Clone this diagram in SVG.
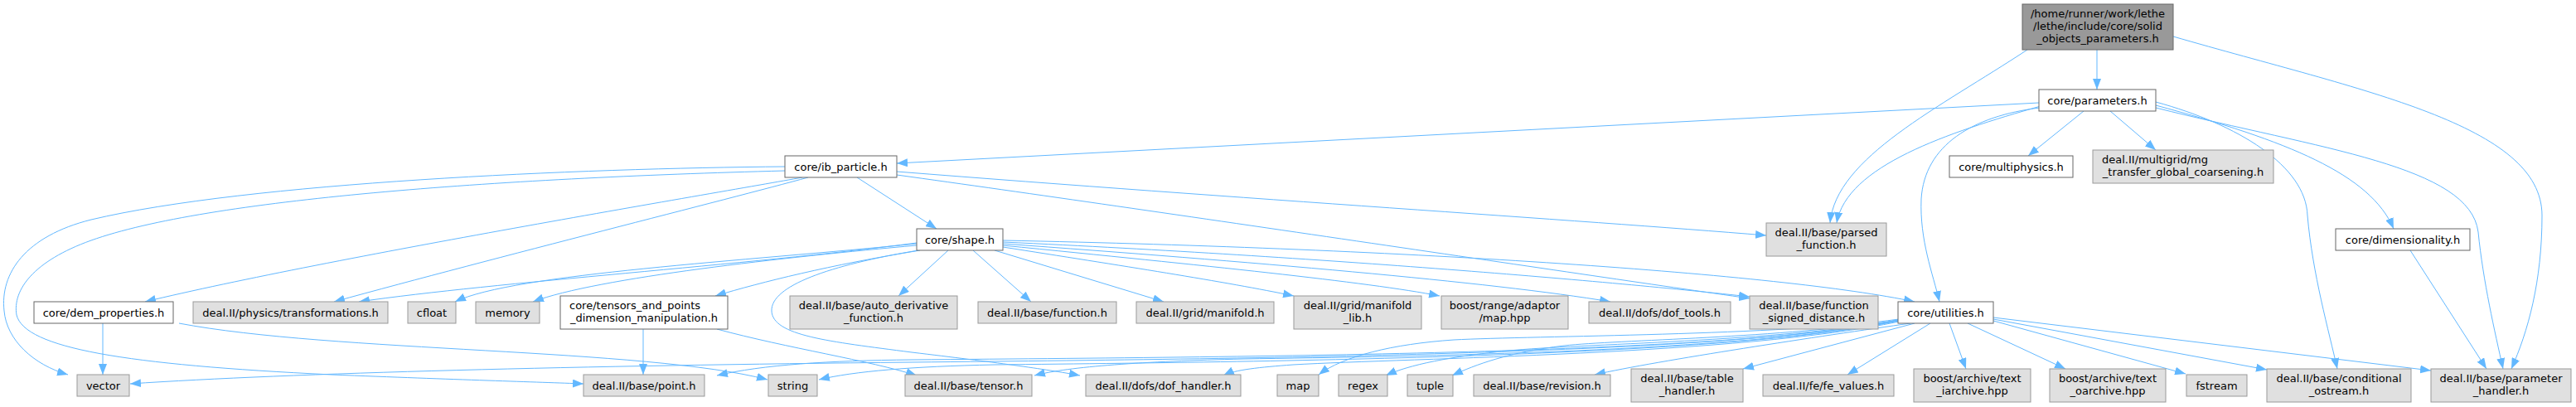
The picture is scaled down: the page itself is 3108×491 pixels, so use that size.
<svg xmlns="http://www.w3.org/2000/svg" width="3108" height="491" viewBox="0 0 3108 491">
<style>
rect{stroke-width:1}
.w{fill:#ffffff;stroke:#666666}
.g{fill:#e0e0e0;stroke:#999999}
.r{fill:#999999;stroke:#666666}
text{font-family:"DejaVu Sans","Liberation Sans",sans-serif;font-size:13px;fill:#000000;text-anchor:middle}
text.s{text-anchor:start}
#edges path{fill:none;stroke:#63b8ff;stroke-width:1;marker-end:url(#ah)}
</style>
<defs>
<marker id="ah" markerUnits="userSpaceOnUse" markerWidth="13" markerHeight="10" refX="13" refY="5" orient="auto">
<path d="M0,0 L13,5 L0,10 z" fill="#63b8ff"/>
</marker>
</defs>
<rect width="3108" height="491" fill="#ffffff"/>
<g id="edges">
<path d="M2530,60 L2530,108"/>
<path d="M2446,60 C2340,130 2215,190 2208,269"/>
<path d="M2622,44 C2850,110 3067,150 3067,260 C3067,340 3050,400 3030,445"/>
<path d="M2460,124 L1082,197"/>
<path d="M2514,134 L2447,188"/>
<path d="M2546,134 L2601,181"/>
<path d="M2462,128 C2350,160 2228,200 2216,269"/>
<path d="M2461,130 C2380,140 2322,175 2318,240 C2316,290 2332,330 2340,364"/>
<path d="M2601,123 C2700,150 2782,200 2784,260 C2790,330 2810,400 2820,445"/>
<path d="M2601,127 C2760,170 2860,210 2888,276"/>
<path d="M2601,130 C2800,180 2980,200 2990,280 C2996,340 3010,400 3020,445"/>
<path d="M2908,302 L3000,445"/>
<path d="M947,201 C700,203 300,220 110,265 C30,285 0,330 5,375 C8,410 40,440 82,452"/>
<path d="M947,206 C600,215 250,240 110,290 C40,315 15,350 20,380 C30,420 150,440 400,452 C550,458 650,461 704,463"/>
<path d="M968,214 C870,232 400,310 175,364"/>
<path d="M975,214 C880,240 600,310 403,364"/>
<path d="M1034,214 L1130,276"/>
<path d="M1082,207 C1500,240 1900,265 2131,284"/>
<path d="M1082,211 C1400,255 1900,330 2111,360"/>
<path d="M1106,293 C900,320 600,340 433,364"/>
<path d="M1106,294 C900,315 620,330 549,364"/>
<path d="M1106,296 C950,310 720,335 643,364"/>
<path d="M1110,302 C1000,320 920,340 863,357"/>
<path d="M1108,302 C1000,320 930,345 931,375 C932,405 1000,412 1100,425 C1200,437 1260,445 1303,453"/>
<path d="M1144,302 L1084,357"/>
<path d="M1174,302 L1244,364"/>
<path d="M1200,302 L1404,364"/>
<path d="M1210,298 C1350,320 1480,340 1561,357"/>
<path d="M1210,296 C1450,320 1650,340 1737,357"/>
<path d="M1210,294 C1500,315 1800,340 1943,364"/>
<path d="M1210,292 C1600,310 1950,340 2111,358"/>
<path d="M1210,290 C1700,300 2150,330 2310,364"/>
<path d="M124,390 L124,452"/>
<path d="M216,390 C400,425 780,420 926,458"/>
<path d="M776,397 L776,452"/>
<path d="M865,397 C950,420 1050,435 1106,453"/>
<path d="M2290,386 C2100,425 1600,432 1100,437 C700,441 350,450 157,463"/>
<path d="M2290,386 C2100,425 1600,430 1100,434 C1000,435 920,440 865,453"/>
<path d="M2290,387 C2100,428 1600,436 1200,440 C1100,442 1030,448 988,458"/>
<path d="M2291,387 C2100,425 1700,430 1500,433 C1380,436 1290,442 1248,453"/>
<path d="M2291,388 C2100,428 1700,432 1560,440 C1520,443 1490,446 1476,453"/>
<path d="M2291,385 C2150,405 1850,405 1754,410 C1680,415 1620,430 1591,452"/>
<path d="M2291,386 C2150,412 1900,415 1821,423 C1750,430 1700,440 1672,453"/>
<path d="M2291,386 C2150,408 1950,410 1887,417 C1820,425 1780,440 1752,453"/>
<path d="M2305,390 C2200,405 2000,435 1924,452"/>
<path d="M2310,390 L2103,445"/>
<path d="M2329,390 L2229,452"/>
<path d="M2352,390 L2372,445"/>
<path d="M2374,390 L2492,445"/>
<path d="M2405,387 L2637,451"/>
<path d="M2405,385 L2735,446"/>
<path d="M2405,383 L2933,447"/>
</g>
<g id="root"><rect class="r" x="2440" y="5" width="182" height="55"/><text x="2531" y="21">/home/runner/work/lethe</text><text x="2531" y="36">/lethe/include/core/solid</text><text x="2531" y="51">_objects_parameters.h</text></g>
<g id="parameters"><rect class="w" x="2460" y="108" width="141" height="26"/><text x="2530.5" y="125.5">core/parameters.h</text></g>
<g id="ib_particle"><rect class="w" x="947" y="188" width="135" height="26"/><text x="1014.5" y="205.5">core/ib_particle.h</text></g>
<g id="multiphysics"><rect class="w" x="2352" y="188" width="149" height="26"/><text x="2426.5" y="205.5">core/multiphysics.h</text></g>
<g id="mg_transfer"><rect class="g" x="2525" y="181" width="218" height="40"/><text class="s" x="2536" y="197">deal.II/multigrid/mg</text><text x="2634" y="212">_transfer_global_coarsening.h</text></g>
<g id="parsed_function"><rect class="g" x="2131" y="269" width="145" height="40"/><text x="2203.5" y="285">deal.II/base/parsed</text><text x="2203.5" y="300">_function.h</text></g>
<g id="shape"><rect class="w" x="1106" y="276" width="104" height="26"/><text x="1158" y="293.5">core/shape.h</text></g>
<g id="dimensionality"><rect class="w" x="2818" y="276" width="162" height="26"/><text x="2899" y="293.5">core/dimensionality.h</text></g>
<g id="dem_properties"><rect class="w" x="41" y="364" width="168" height="26"/><text x="125" y="381.5">core/dem_properties.h</text></g>
<g id="transformations"><rect class="g" x="233" y="364" width="235" height="26"/><text x="350.5" y="381.5">deal.II/physics/transformations.h</text></g>
<g id="cfloat"><rect class="g" x="492" y="364" width="58" height="26"/><text x="521" y="381.5">cfloat</text></g>
<g id="memory"><rect class="g" x="574" y="364" width="77" height="26"/><text x="612.5" y="381.5">memory</text></g>
<g id="tensors_and_points"><rect class="w" x="676" y="357" width="202" height="40"/><text class="s" x="687" y="373">core/tensors_and_points</text><text x="777" y="388">_dimension_manipulation.h</text></g>
<g id="auto_derivative"><rect class="g" x="953" y="357" width="202" height="40"/><text x="1054" y="373">deal.II/base/auto_derivative</text><text x="1054" y="388">_function.h</text></g>
<g id="function"><rect class="g" x="1180" y="364" width="167" height="26"/><text x="1263.5" y="381.5">deal.II/base/function.h</text></g>
<g id="manifold"><rect class="g" x="1371" y="364" width="166" height="26"/><text x="1454" y="381.5">deal.II/grid/manifold.h</text></g>
<g id="manifold_lib"><rect class="g" x="1561" y="357" width="154" height="40"/><text x="1638" y="373">deal.II/grid/manifold</text><text x="1638" y="388">_lib.h</text></g>
<g id="map_hpp"><rect class="g" x="1739" y="357" width="153" height="40"/><text x="1815.5" y="373">boost/range/adaptor</text><text x="1815.5" y="388">/map.hpp</text></g>
<g id="dof_tools"><rect class="g" x="1917" y="364" width="171" height="26"/><text x="2002.5" y="381.5">deal.II/dofs/dof_tools.h</text></g>
<g id="function_signed_distance"><rect class="g" x="2111" y="357" width="155" height="40"/><text x="2188.5" y="373">deal.II/base/function</text><text x="2188.5" y="388">_signed_distance.h</text></g>
<g id="utilities"><rect class="w" x="2290" y="364" width="115" height="26"/><text x="2347.5" y="381.5">core/utilities.h</text></g>
<g id="vector"><rect class="g" x="93" y="452" width="63" height="26"/><text x="124.5" y="469.5">vector</text></g>
<g id="point"><rect class="g" x="704" y="452" width="146" height="26"/><text x="777" y="469.5">deal.II/base/point.h</text></g>
<g id="string"><rect class="g" x="927" y="452" width="59" height="26"/><text x="956.5" y="469.5">string</text></g>
<g id="tensor"><rect class="g" x="1092" y="452" width="153" height="26"/><text x="1168.5" y="469.5">deal.II/base/tensor.h</text></g>
<g id="dof_handler"><rect class="g" x="1310" y="452" width="187" height="26"/><text x="1403.5" y="469.5">deal.II/dofs/dof_handler.h</text></g>
<g id="map"><rect class="g" x="1541" y="452" width="50" height="26"/><text x="1566" y="469.5">map</text></g>
<g id="regex"><rect class="g" x="1615" y="452" width="59" height="26"/><text x="1644.5" y="469.5">regex</text></g>
<g id="tuple"><rect class="g" x="1698" y="452" width="55" height="26"/><text x="1725.5" y="469.5">tuple</text></g>
<g id="revision"><rect class="g" x="1778" y="452" width="165" height="26"/><text x="1860.5" y="469.5">deal.II/base/revision.h</text></g>
<g id="table_handler"><rect class="g" x="1968" y="445" width="135" height="40"/><text x="2035.5" y="461">deal.II/base/table</text><text x="2035.5" y="476">_handler.h</text></g>
<g id="fe_values"><rect class="g" x="2127" y="452" width="158" height="26"/><text x="2206" y="469.5">deal.II/fe/fe_values.h</text></g>
<g id="text_iarchive"><rect class="g" x="2309" y="445" width="141" height="40"/><text x="2379.5" y="461">boost/archive/text</text><text x="2379.5" y="476">_iarchive.hpp</text></g>
<g id="text_oarchive"><rect class="g" x="2473" y="445" width="140" height="40"/><text x="2543" y="461">boost/archive/text</text><text x="2543" y="476">_oarchive.hpp</text></g>
<g id="fstream"><rect class="g" x="2638" y="452" width="73" height="26"/><text x="2674.5" y="469.5">fstream</text></g>
<g id="conditional_ostream"><rect class="g" x="2735" y="445" width="174" height="40"/><text x="2822" y="461">deal.II/base/conditional</text><text x="2822" y="476">_ostream.h</text></g>
<g id="parameter_handler"><rect class="g" x="2933" y="445" width="169" height="40"/><text x="3017.5" y="461">deal.II/base/parameter</text><text x="3017.5" y="476">_handler.h</text></g>
</svg>
